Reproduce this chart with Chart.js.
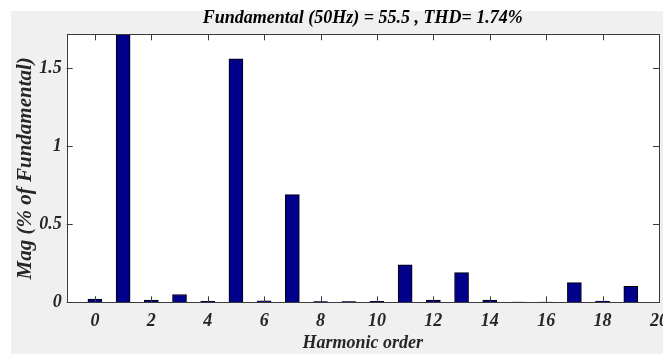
<!DOCTYPE html>
<html>
<head>
<meta charset="utf-8">
<script src="https://cdn.jsdelivr.net/npm/chart.js@4"></script>
<style>
  html, body { margin: 0; padding: 0; background: #fff; }
  #wrap { width: 663px; height: 354px; }
</style>
</head>
<body>
<div id="wrap"><canvas id="chart" width="663" height="354"></canvas></div>
<script>
const harmonicOrder = [0, 1, 2, 3, 4, 5, 6, 7, 8, 9, 10, 11, 12, 13, 14, 15, 16, 17, 18, 19];
const magnitude = [0.02, 100, 0.015, 0.05, 0.007, 1.56, 0.01, 0.69, 0.005, 0.005, 0.006, 0.24, 0.015, 0.19, 0.015, 0.002, 0.002, 0.126, 0.008, 0.103];
const xTicks = [0, 2, 4, 6, 8, 10, 12, 14, 16, 18, 20];
const yTicks = [0, 0.5, 1, 1.5];

const serif = "'Liberation Serif', 'Times New Roman', serif";
const axisColor = "#3a3a3a";

// grey figure background, white axes, box and inward ticks like MATLAB
const matlabFrame = {
  id: "matlabFrame",
  beforeDraw(chart) {
    const { ctx, chartArea: a } = chart;
    ctx.save();
    ctx.fillStyle = "#ffffff";
    ctx.fillRect(0, 0, chart.width, chart.height);
    ctx.fillStyle = "#f0f0f0";
    ctx.fillRect(11, 11, chart.width - 11, chart.height - 11);
    ctx.fillStyle = "#ffffff";
    ctx.fillRect(a.left, a.top, a.right - a.left, a.bottom - a.top);
    ctx.restore();
  },
  afterDraw(chart) {
    const { ctx, chartArea: a, scales } = chart;
    ctx.save();
    ctx.strokeStyle = axisColor;
    ctx.lineWidth = 1;
    ctx.beginPath();
    xTicks.forEach((v) => {
      const px = Math.round(scales.x.getPixelForValue(v)) + 0.5;
      ctx.moveTo(px, a.bottom);
      ctx.lineTo(px, a.bottom - 6);
      ctx.moveTo(px, a.top);
      ctx.lineTo(px, a.top + 6);
    });
    yTicks.forEach((v) => {
      const py = Math.round(scales.y.getPixelForValue(v)) + 0.5;
      ctx.moveTo(a.left, py);
      ctx.lineTo(a.left + 6, py);
      ctx.moveTo(a.right, py);
      ctx.lineTo(a.right - 6, py);
    });
    ctx.stroke();
    ctx.strokeRect(Math.round(a.left) + 0.5, Math.round(a.top) + 0.5,
      Math.round(a.right - a.left), Math.round(a.bottom - a.top));
    ctx.restore();
  }
};

new Chart(document.getElementById("chart"), {
  type: "bar",
  data: {
    datasets: [
      {
        data: harmonicOrder.map((h, i) => ({ x: h, y: magnitude[i] })),
        backgroundColor: "#00008b",
        borderColor: "#000000",
        borderWidth: 1,
        barThickness: 14
      }
    ]
  },
  plugins: [matlabFrame],
  options: {
    responsive: false,
    animation: false,
    layout: { padding: { left: 0, right: 4, top: 0, bottom: 0 } },
    plugins: {
      legend: { display: false },
      tooltip: { enabled: false },
      title: {
        display: true,
        fullSize: false,
        text: "Fundamental (50Hz) = 55.5 , THD= 1.74%",
        color: "#000",
        font: { family: serif, size: 18, weight: "bold", style: "italic", lineHeight: 1.2 },
        padding: { top: 8, bottom: 4.7 }
      }
    },
    scales: {
      x: {
        type: "linear",
        min: -1,
        max: 20,
        offset: false,
        grid: { display: false, drawTicks: false },
        border: { display: false },
        afterBuildTicks: (s) => { s.ticks = xTicks.map((v) => ({ value: v })); },
        afterFit: (s) => { s.height = 51.7; s.paddingLeft = 0; s.paddingRight = 0; },
        ticks: {
          padding: 8,
          maxRotation: 0,
          autoSkip: false,
          color: "#262626",
          font: { family: serif, size: 18, weight: "bold", style: "italic" },
          callback: (v) => String(v)
        },
        title: {
          display: true,
          text: "Harmonic order",
          color: "#262626",
          padding: { top: 0, bottom: 0 },
          font: { family: serif, size: 18, weight: "bold", style: "italic", lineHeight: 1.2 }
        }
      },
      y: {
        min: 0,
        max: 1.718,
        grid: { display: false, drawTicks: false },
        border: { display: false },
        afterBuildTicks: (s) => { s.ticks = yTicks.map((v) => ({ value: v })); },
        afterFit: (s) => { s.width = 66.7; },
        ticks: {
          padding: 5,
          color: "#262626",
          font: { family: serif, size: 18, weight: "bold", style: "italic" },
          callback: (v) => String(v)
        },
        title: {
          display: true,
          text: "Mag (% of Fundamental)",
          color: "#262626",
          padding: { top: 13, bottom: 0 },
          font: { family: serif, size: 21, weight: "bold", style: "italic", lineHeight: 1.2 }
        }
      }
    }
  }
});
</script>
</body>
</html>
